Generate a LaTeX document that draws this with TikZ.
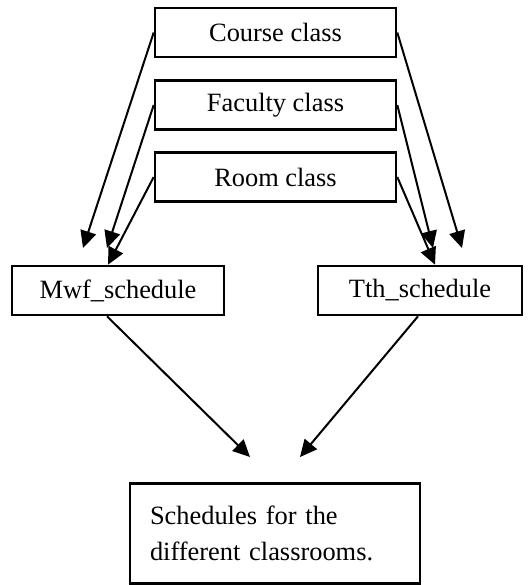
\documentclass[tikz,border=0pt]{standalone}
\usepackage{fontspec}
\setmainfont{Liberation Serif}
\usetikzlibrary{arrows.meta}
\begin{document}
\begin{tikzpicture}[x=0.5pt,y=-0.5pt,
  box/.style={draw,line width=1.3pt,inner sep=0pt,minimum height=24.5pt,font=\fontsize{13.2}{18}\selectfont},
  arr/.style={line width=1pt,-{Triangle[length=8.5pt,width=8pt]}}]
\useasboundingbox (0,0) rectangle (530,585);

\node[box,minimum width=120.5pt] (course) at (275.5,32.5) {Course class};
\node[box,minimum width=120.5pt] (faculty) at (275.5,105) {Faculty class};
\node[box,minimum width=120.5pt] (room) at (275.5,177) {Room class};

\node[box,minimum width=106pt] (mwf) at (118,290.5) {Mwf\_schedule};
\node[box,minimum width=102pt] (tth) at (420,290.5) {Tth\_schedule};

\node[box,minimum width=145pt,minimum height=50pt,text width=125pt,inner xsep=10pt,align=left] (sched) at (275,533.5) {Schedules for the\\different classrooms.};

\coordinate (mwfcourse) at (83,248);
\coordinate (mwffaculty) at (107,248);
\coordinate (tthcourse) at (462,248);
\coordinate (tthfaculty) at (433,248);
\coordinate (schedleft) at (250,457);
\coordinate (schedright) at (300,457);

\draw[arr] (course.west) -- (mwfcourse);
\draw[arr] (faculty.west) -- (mwffaculty);
\draw[arr] (room.west) -- ([xshift=-5pt]mwf.north);

\draw[arr] (course.east) -- (tthcourse);
\draw[arr] (faculty.east) -- (tthfaculty);
\draw[arr] (room.east) -- ([xshift=7.5pt]tth.north);

\draw[arr] ([xshift=-5.5pt]mwf.south) -- (schedleft);
\draw[arr] ([xshift=-1pt]tth.south) -- (schedright);
\end{tikzpicture}
\end{document}
